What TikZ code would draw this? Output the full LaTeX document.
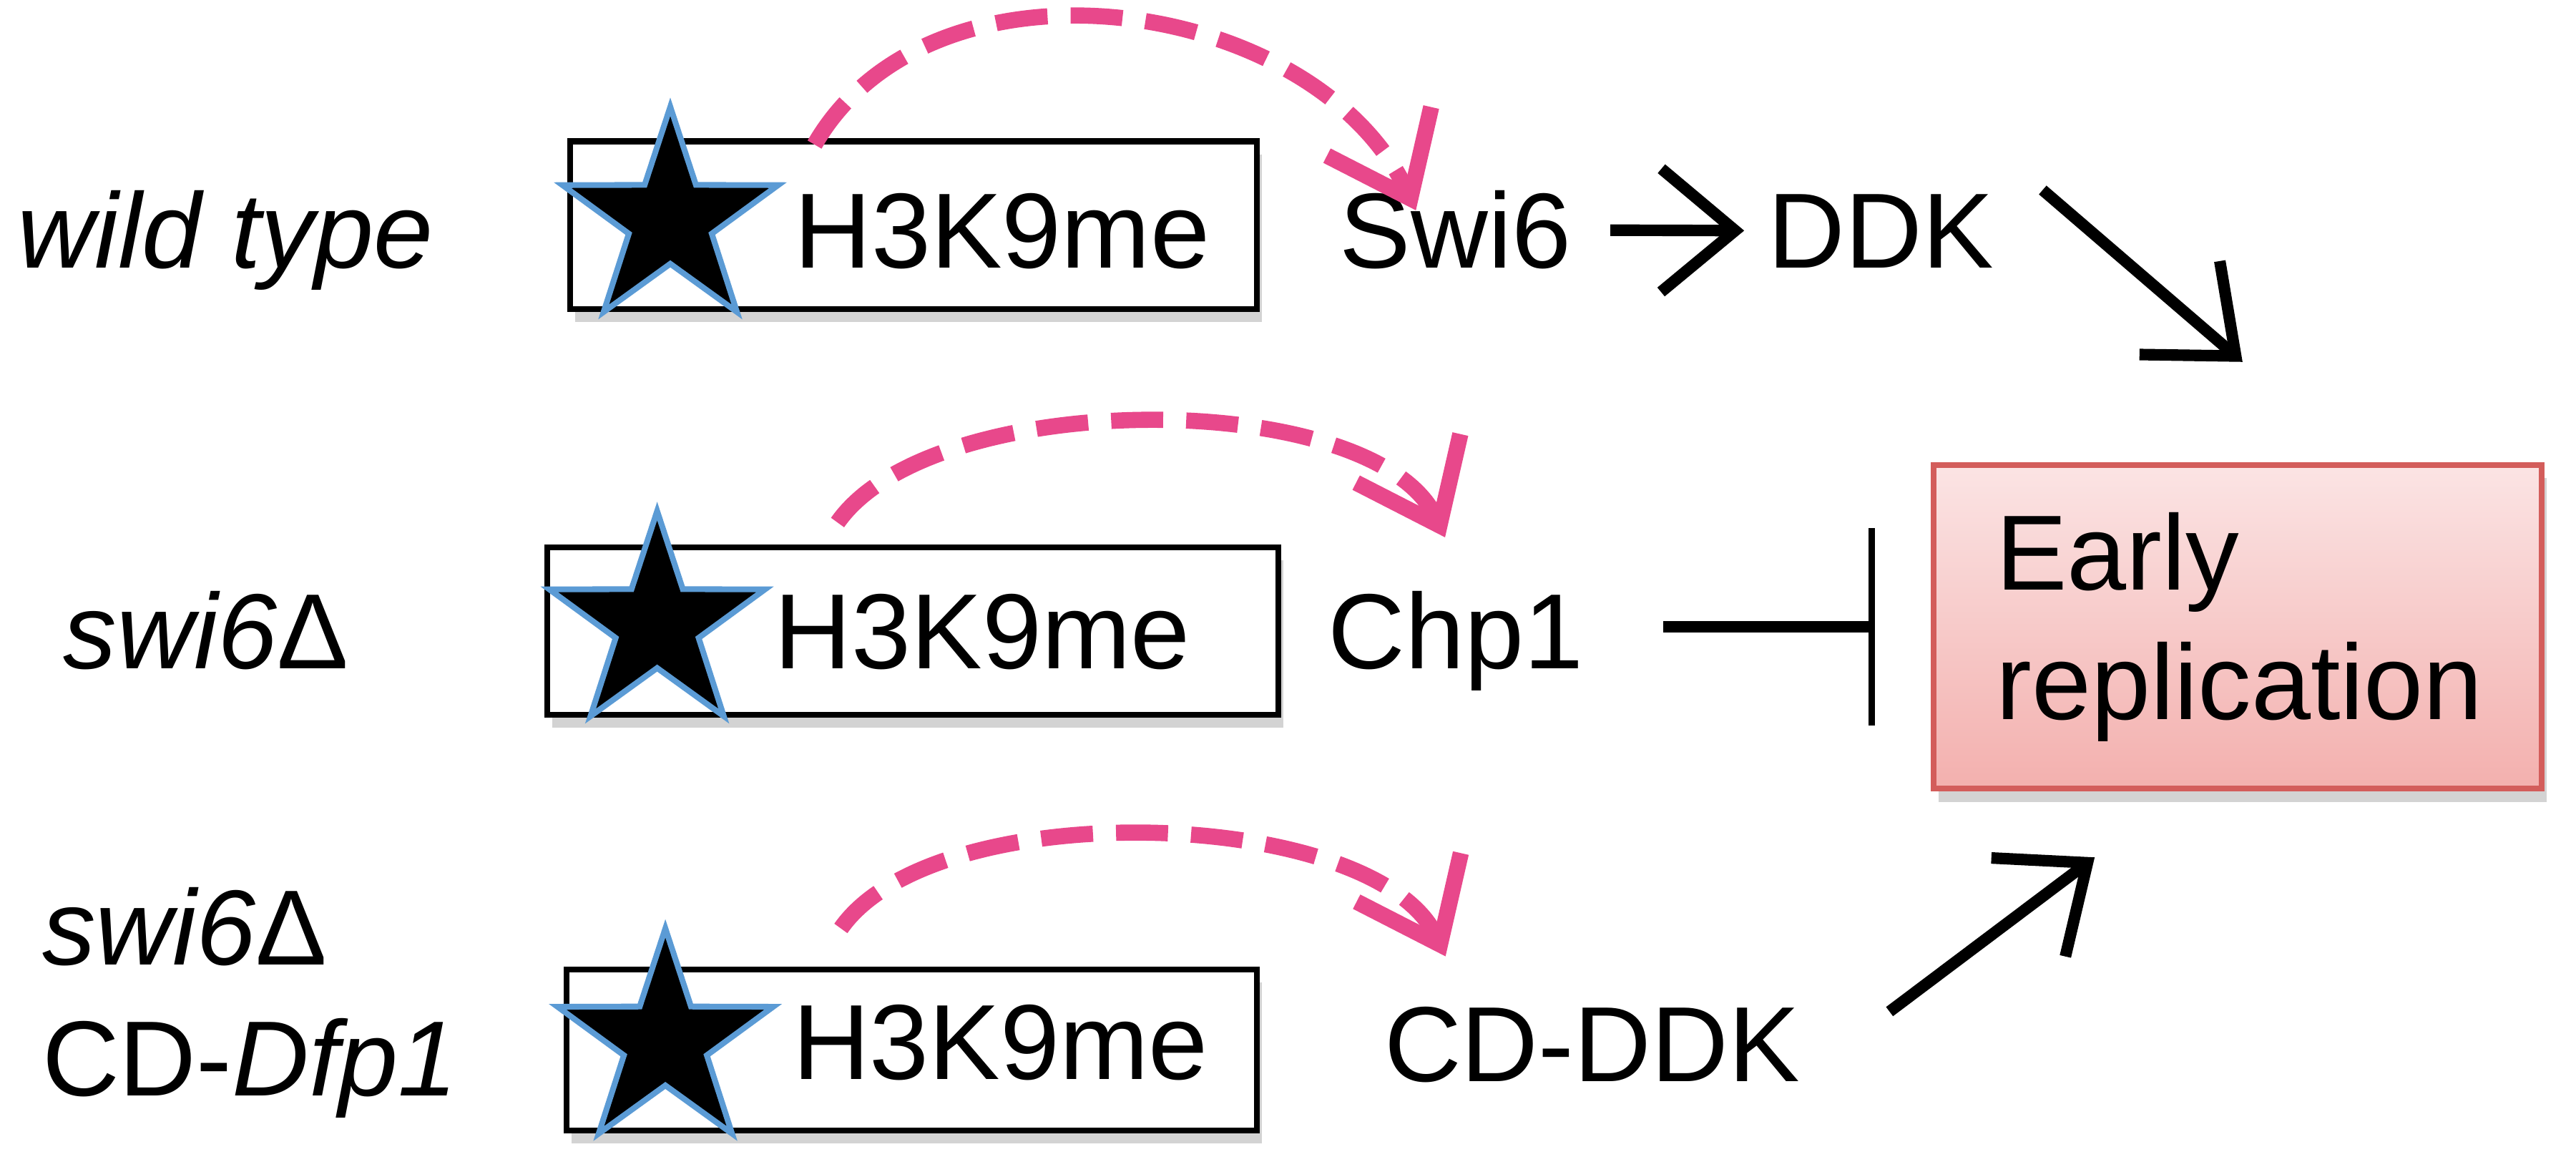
\documentclass[tikz,border=0pt]{standalone}
\usepackage{fontspec}
\setmainfont{Liberation Sans}
\usepackage{xcolor}
\usetikzlibrary{arrows.meta,shapes.geometric,shadows}
\definecolor{ink}{HTML}{000000}
\definecolor{roz}{HTML}{E8488B}
\definecolor{albs}{HTML}{5B9BD5}
\definecolor{rosu}{HTML}{D35D5B}
\definecolor{rozsus}{HTML}{FBE4E4}
\definecolor{rozjos}{HTML}{F3B0AE}

\begin{document}
\begin{tikzpicture}[
    txt/.style={font=\fontsize{18.5}{22.4}\selectfont, inner sep=0pt, anchor=base},
    eticheta/.style={txt, anchor=base west},
    hbox/.style={draw=ink, line width=1pt, fill=white, minimum height=1.02cm,
      drop shadow={shadow xshift=0.03cm, shadow yshift=-0.08cm, opacity=0.35}},
    steaua/.style={star, star points=5, star point ratio=2.6, fill=ink, draw=albs,
      line width=1pt, minimum size=1.38cm, inner sep=0pt},
    rozarc/.style={roz, line width=2.8pt, dash pattern=on 9pt off 4pt,
      -{Straight Barb[length=4.5mm,width=7mm]}},
    sageata/.style={ink, line width=2pt, -{Straight Barb[length=4.5mm,width=7.5mm]}},
    bloc/.style={ink, line width=2pt, -{Bar[width=1.2cm,line width=1.1pt]}},
  ]
  \useasboundingbox (0,0) rectangle (15.68,7.10);

  % Etichete tulpini
  \node[eticheta] (wt) at (0.10,5.47) {\itshape wild type};
  \node[eticheta] (del) at (0.38,3.03) {\itshape swi6\textup{Δ}};
  \node[eticheta] (cd1) at (0.25,1.23) {\itshape swi6\textup{Δ}};
  \node[eticheta] (cd2) at (0.25,0.43) {CD-\textit{Dfp1}};

  % Cutii H3K9me cu stea
  \node[hbox, minimum width=4.18cm] (b1) at (5.56,5.73) {};
  \node[hbox, minimum width=4.45cm] (b2) at (5.555,3.26) {};
  \node[hbox, minimum width=4.20cm, minimum height=0.98cm] (b3) at (5.55,0.71) {};
  \node[steaua] (s1) at (4.08,5.76) {};
  \node[steaua] (s2) at (4.00,3.30) {};
  \node[steaua] (s3) at (4.05,0.76) {};
  \node[txt] (h1) at (6.10,5.47) {H3K9me};
  \node[txt] (h2) at (5.98,3.03) {H3K9me};
  \node[txt] (h3) at (6.09,0.53) {H3K9me};

  % Proteine
  \node[txt] (sw) at (8.86,5.47) {Swi6};
  \node[txt] (ddk) at (11.45,5.47) {DDK};
  \node[txt] (chp) at (8.86,3.03) {Chp1};
  \node[txt] (cdk) at (9.69,0.52) {CD-DDK};

  % Replicare timpurie
  \node[draw=rosu, line width=1pt, top color=rozsus, bottom color=rozjos,
    minimum width=3.70cm, minimum height=1.97cm, text width=2.94cm, inner xsep=0.38cm,
    align=left, font=\fontsize{18.5}{22.4}\selectfont,
    drop shadow={shadow xshift=0.03cm, shadow yshift=-0.08cm, opacity=0.35}]
    (er) at (13.62,3.285) {Early\\replication};

  % Sageti roz, intrerupte
  \draw[rozarc] ([shift={(0.13,0.75)}]h1.base west) to[out=60,in=115]
    ([shift={(0.47,0.35)}]sw.base west);
  \draw[rozarc] ([shift={(0.39,0.89)}]h2.base west) to[out=55,in=115,looseness=0.7]
    ([shift={(0.72,0.80)}]chp.base west);
  \draw[rozarc] ([shift={(0.30,0.92)}]h3.base west) to[out=55,in=115,looseness=0.7]
    ([shift={(0.38,0.76)}]cdk.base west);

  % Sageti negre
  \draw[sageata, shorten <=0.23cm, shorten >=0.14cm] (sw) -- (ddk);
  \draw[sageata] ([shift={(0.29,0.25)}]ddk.east) -- ([shift={(0.03,0.61)}]er.north);
  \draw[sageata] ([shift={(0.54,0.20)}]cdk.east) -- ([shift={(-0.87,-0.40)}]er.south);
  \draw[bloc, shorten <=0.48cm, shorten >=0.34cm] (chp.east |- er.west) -- (er.west);
\end{tikzpicture}
\end{document}
